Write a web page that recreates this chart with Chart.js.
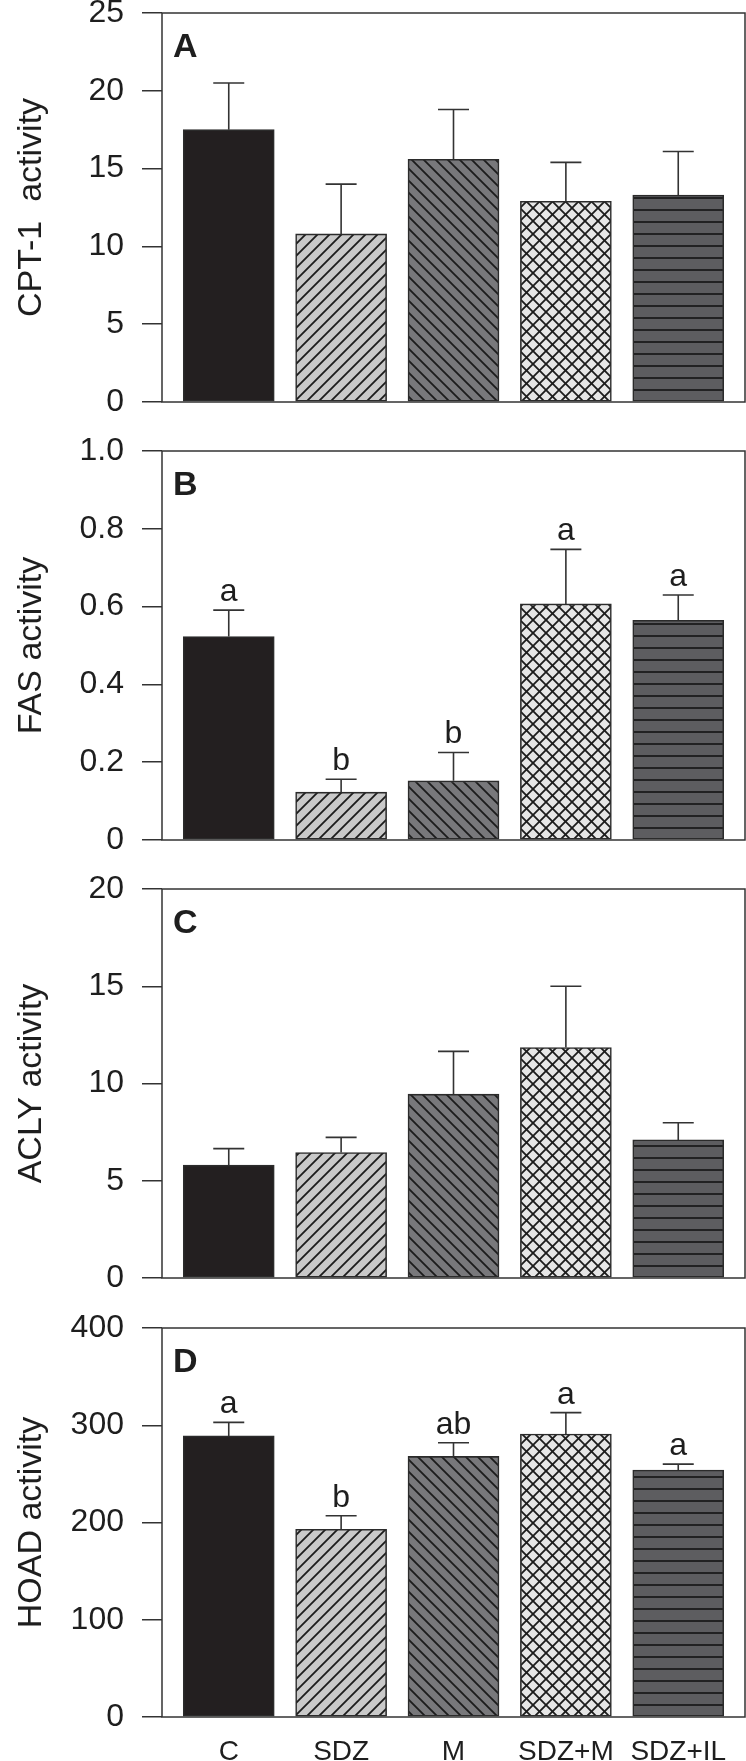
<!DOCTYPE html>
<html>
<head>
<meta charset="utf-8">
<script src="https://cdn.jsdelivr.net/npm/chart.js@4.4.1/dist/chart.umd.min.js"></script>
<style>
html,body{margin:0;padding:0;background:#fff;}
#wrap{position:relative;width:746px;height:1761px;overflow:hidden;}
.panel{position:absolute;left:0;width:746px;}
canvas{display:block;}
</style>
</head>
<body>
<div id="wrap">
  <div class="panel" style="top:0px"><canvas id="cA" width="746" height="438"></canvas></div>
  <div class="panel" style="top:438px"><canvas id="cB" width="746" height="438"></canvas></div>
  <div class="panel" style="top:876px"><canvas id="cC" width="746" height="438"></canvas></div>
  <div class="panel" style="top:1315px"><canvas id="cD" width="746" height="446"></canvas></div>
</div>
<script>
// groups
const categories=['C','SDZ','M','SDZ+M','SDZ+IL'];

// A: CPT-1
const cptMean=[17.5,10.8,15.6,12.9,13.3];
const cptErr=[3.0,3.2,3.2,2.5,2.8];
const cptTicks=[0,5,10,15,20,25];

// B: FAS
const fasMean=[0.523,0.123,0.152,0.607,0.565];
const fasErr=[0.068,0.033,0.073,0.140,0.065];
const fasLetters=['a','b','b','a','a'];
const fasTicks=[0,0.2,0.4,0.6,0.8,1.0];

// C: ACLY
const aclyMean=[5.8,6.45,9.45,11.85,7.1];
const aclyErr=[0.85,0.78,2.2,3.15,0.88];
const aclyTicks=[0,5,10,15,20];

// D: HOAD
const hoadMean=[289,193,268,291,254];
const hoadErr=[14,14,14,22,6];
const hoadLetters=['a','b','ab','a','a'];
const hoadTicks=[0,100,200,300,400];

const FONT='"Liberation Sans", Arial, Helvetica, sans-serif';
const INK='#1e1e1e';
const LINE='#333';

function hatch(bg,kind,s){
  const c=document.createElement('canvas');
  c.width=s;c.height=s;
  const g=c.getContext('2d');
  g.fillStyle=bg;g.fillRect(0,0,s,s);
  g.strokeStyle='#1c1c1c';g.lineWidth=1.8;
  const fwd=()=>{g.beginPath();g.moveTo(0,s);g.lineTo(s,0);g.moveTo(-2,2);g.lineTo(2,-2);g.moveTo(s-2,s+2);g.lineTo(s+2,s-2);g.stroke();};
  const back=()=>{g.beginPath();g.moveTo(0,0);g.lineTo(s,s);g.moveTo(-2,s-2);g.lineTo(2,s+2);g.moveTo(s-2,-2);g.lineTo(s+2,2);g.stroke();};
  if(kind==='fwd')fwd();
  if(kind==='back')back();
  if(kind==='cross'){fwd();back();}
  if(kind==='horiz'){g.beginPath();g.moveTo(0,s/2);g.lineTo(s,s/2);g.stroke();}
  return g.createPattern(c,'repeat');
}
const fills=[
  '#231f20',
  hatch('#c9c9c9','fwd',12),
  hatch('#78787b','back',12),
  hatch('#e6e6e6','cross',13),
  hatch('#5d5d60','horiz',12)
];

const framePlugin={
  id:'frame',
  afterDatasetsDraw(chart,args,opts){
    const {ctx,chartArea:a}=chart;
    ctx.save();
    ctx.strokeStyle=LINE;ctx.lineWidth=1.5;
    ctx.strokeRect(a.left,a.top,a.right-a.left,a.bottom-a.top);
    ctx.fillStyle=INK;
    ctx.font='bold 34px '+FONT;
    ctx.textBaseline='alphabetic';ctx.textAlign='left';
    ctx.fillText(opts.letter,a.left+11,a.top+44);
    ctx.restore();
  }
};

const errPlugin={
  id:'errbars',
  afterDatasetsDraw(chart,args,opts){
    const {ctx,scales:{x,y}}=chart;
    ctx.save();
    ctx.strokeStyle=LINE;ctx.lineWidth=1.6;
    opts.mean.forEach((m,i)=>{
      const px=x.getPixelForValue(i);
      const y0=y.getPixelForValue(m);
      const y1=y.getPixelForValue(m+opts.err[i]);
      ctx.beginPath();
      ctx.moveTo(px,y0);ctx.lineTo(px,y1);
      ctx.moveTo(px-15.5,y1);ctx.lineTo(px+15.5,y1);
      ctx.stroke();
      if(opts.letters){
        ctx.fillStyle=INK;
        ctx.font='32px '+FONT;
        ctx.textAlign='center';ctx.textBaseline='alphabetic';
        ctx.fillText(opts.letters[i],px,y1-9);
      }
    });
    ctx.restore();
  }
};

function makePanel(id,letter,title,mean,err,letters,ticks,fmt,showX,xh){
  new Chart(document.getElementById(id),{
    type:'bar',
    data:{datasets:[{
      data:mean.map((v,i)=>({x:i,y:v})),
      backgroundColor:fills,
      borderColor:'#2b2b2b',
      borderWidth:1.6,
      borderSkipped:false,
      barThickness:91
    }]},
    options:{
      responsive:false,
      animation:false,
      devicePixelRatio:1,
      layout:{padding:{top:13,right:1,left:0,bottom:0}},
      plugins:{
        legend:{display:false},
        tooltip:{enabled:false},
        frame:{letter:letter},
        errbars:{mean:mean,err:err,letters:letters}
      },
      scales:{
        x:{
          type:'linear',min:-0.594,max:4.594,offset:false,
          grid:{display:false,drawTicks:false,offset:false},
          border:{display:false},
          afterBuildTicks:s=>{s.ticks=categories.map((c,i)=>({value:i}));},
          ticks:{display:showX,autoSkip:false,maxRotation:0,padding:18,color:INK,
            font:{family:FONT,size:28},callback:v=>categories[v]},
          afterFit:s=>{s.height=xh;}
        },
        y:{
          min:ticks[0],max:ticks[ticks.length-1],
          afterBuildTicks:s=>{s.ticks=ticks.map(v=>({value:v}));},
          grid:{drawOnChartArea:false,tickLength:20,color:LINE,lineWidth:1.5},
          border:{display:false},
          ticks:{padding:18,color:INK,font:{family:FONT,size:32,lineHeight:0.8},callback:fmt},
          title:{display:true,text:title,color:INK,font:{family:FONT,size:34},padding:{top:11,bottom:0}},
          afterFit:s=>{s.width=162;s.paddingTop=0;s.paddingBottom=0;}
        }
      }
    },
    plugins:[framePlugin,errPlugin]
  });
}

const intFmt=v=>String(v);
const fasFmt=v=>v===0?'0':v.toFixed(1);
makePanel('cA','A','CPT-1  activity',cptMean,cptErr,null,cptTicks,intFmt,false,36);
makePanel('cB','B','FAS activity',fasMean,fasErr,fasLetters,fasTicks,fasFmt,false,36);
makePanel('cC','C','ACLY activity',aclyMean,aclyErr,null,aclyTicks,intFmt,false,36);
makePanel('cD','D','HOAD activity',hoadMean,hoadErr,hoadLetters,hoadTicks,intFmt,true,44);
</script>
</body>
</html>
